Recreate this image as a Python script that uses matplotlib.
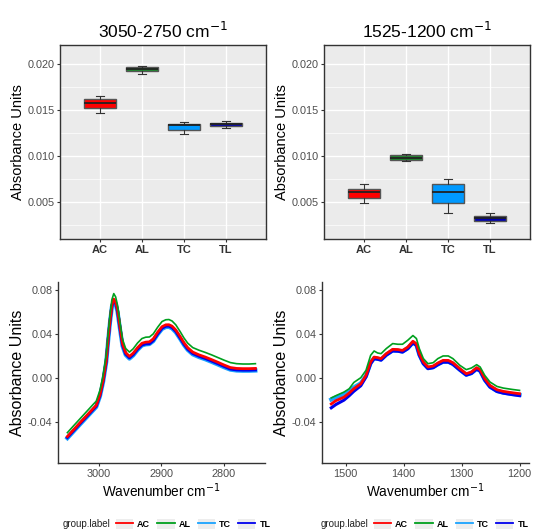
import numpy as np
import matplotlib
matplotlib.use("Agg")
import matplotlib.pyplot as plt
from matplotlib.lines import Line2D
from matplotlib.patches import Rectangle

plt.rcParams['font.family'] = ['Liberation Sans', 'DejaVu Sans']

groups = ['AC', 'AL', 'TC', 'TL']
line_colors = ['#FF0000', '#00A01E', '#1AA3FF', '#0000EE']
box_colors = ['#FF0000', '#1A8C2A', '#0099FF', '#0000B0']

# box stats: whisker low, q1, median, q3, whisker high
ch_box = [
    [0.01466, 0.0152, 0.01575, 0.01618, 0.0165],
    [0.01892, 0.01924, 0.01939, 0.0196, 0.01975],
    [0.01232, 0.01275, 0.01337, 0.0134, 0.01362],
    [0.01304, 0.01326, 0.0134, 0.01358, 0.01373],
]
fp_box = [
    [0.00486, 0.0054, 0.00605, 0.00644, 0.00691],
    [0.0094, 0.00958, 0.00976, 0.01005, 0.01023],
    [0.00377, 0.00489, 0.00605, 0.00698, 0.00749],
    [0.00273, 0.00294, 0.0033, 0.00352, 0.00377],
]

# mean spectra, C-H stretch region
wn_ch = [3050, 3040, 3030, 3020, 3010, 3004, 2998, 2993, 2988, 2985, 2982, 2979,
         2976, 2973, 2970, 2966, 2962, 2957, 2951, 2945, 2938, 2931, 2925, 2919,
         2913, 2906, 2899, 2893, 2888, 2883, 2877, 2870, 2864, 2858, 2850, 2840,
         2830, 2820, 2810, 2800, 2790, 2780, 2770, 2760, 2750]
ac_ch = [-0.0530, -0.0468, -0.0406, -0.0345, -0.0284, -0.0247, -0.0150, -0.0020,
         0.0160, 0.0350, 0.0520, 0.0660, 0.0715, 0.0690, 0.0620, 0.0460, 0.0310,
         0.0230, 0.0196, 0.0225, 0.0275, 0.0315, 0.0325, 0.0328, 0.0355, 0.0415,
         0.0465, 0.0482, 0.0483, 0.0470, 0.0435, 0.0375, 0.0320, 0.0275, 0.0235,
         0.0210, 0.0190, 0.0167, 0.0143, 0.0118, 0.0095, 0.0087, 0.0085, 0.0085,
         0.0087]
al_ch = [-0.0495, -0.0432, -0.0370, -0.0308, -0.0246, -0.0210, -0.0110, 0.0025,
         0.0210, 0.0400, 0.0570, 0.0710, 0.0765, 0.0735, 0.0660, 0.0500, 0.0350,
         0.0268, 0.0235, 0.0265, 0.0318, 0.0358, 0.0370, 0.0372, 0.0400, 0.0460,
         0.0512, 0.0528, 0.0530, 0.0517, 0.0482, 0.0420, 0.0363, 0.0316, 0.0276,
         0.0252, 0.0232, 0.0210, 0.0186, 0.0162, 0.0140, 0.0130, 0.0127, 0.0127,
         0.0130]
tc_ch = [-0.0545, -0.0483, -0.0421, -0.0360, -0.0299, -0.0262, -0.0165, -0.0035,
         0.0145, 0.0335, 0.0505, 0.0645, 0.0695, 0.0670, 0.0600, 0.0440, 0.0290,
         0.0210, 0.0176, 0.0205, 0.0255, 0.0295, 0.0305, 0.0308, 0.0335, 0.0395,
         0.0445, 0.0462, 0.0463, 0.0450, 0.0415, 0.0355, 0.0300, 0.0255, 0.0215,
         0.0190, 0.0170, 0.0147, 0.0123, 0.0098, 0.0076, 0.0068, 0.0066, 0.0066,
         0.0068]
tl_ch = [-0.0538, -0.0476, -0.0414, -0.0353, -0.0292, -0.0255, -0.0158, -0.0028,
         0.0152, 0.0342, 0.0512, 0.0652, 0.0705, 0.0680, 0.0610, 0.0450, 0.0300,
         0.0218, 0.0184, 0.0212, 0.0262, 0.0300, 0.0310, 0.0312, 0.0340, 0.0400,
         0.0452, 0.0470, 0.0471, 0.0458, 0.0423, 0.0362, 0.0307, 0.0262, 0.0223,
         0.0198, 0.0178, 0.0155, 0.0131, 0.0106, 0.0082, 0.0074, 0.0072, 0.0072,
         0.0074]

# mean spectra, fingerprint region
wn_fp = [1525, 1517, 1503, 1494, 1486, 1474, 1465, 1457, 1451, 1445, 1439, 1430,
         1419, 1410, 1402, 1393, 1384, 1378, 1373, 1366, 1358, 1349, 1341, 1332,
         1323, 1315, 1303, 1292, 1283, 1274, 1268, 1260, 1251, 1239, 1228, 1213,
         1200]
ac_fp = [-0.0235, -0.0205, -0.0173, -0.0136, -0.0097, -0.0052, 0.0024, 0.0145,
         0.0190, 0.0185, 0.0176, 0.0221, 0.0260, 0.0258, 0.0250, 0.0280, 0.0333,
         0.0310, 0.0221, 0.0145, 0.0100, 0.0109, 0.0136, 0.0160, 0.0160, 0.0139,
         0.0085, 0.0039, 0.0055, 0.0094, 0.0076, -0.0006, -0.0067, -0.0106,
         -0.0121, -0.0133, -0.0142]
al_fp = [-0.0180, -0.0160, -0.0127, -0.0097, -0.0040, 0.0003, 0.0070, 0.0206,
         0.0245, 0.0227, 0.0221, 0.0267, 0.0312, 0.0306, 0.0306, 0.0342, 0.0385,
         0.0358, 0.0267, 0.0176, 0.0130, 0.0139, 0.0176, 0.0200, 0.0200, 0.0176,
         0.0115, 0.0076, 0.0091, 0.0121, 0.0100, 0.0024, -0.0036, -0.0076,
         -0.0091, -0.0103, -0.0112]
tc_fp = [-0.0195, -0.0175, -0.0145, -0.0118, -0.0085, -0.0048, 0.0020, 0.0138,
         0.0180, 0.0175, 0.0168, 0.0212, 0.0250, 0.0248, 0.0240, 0.0270, 0.0322,
         0.0300, 0.0212, 0.0135, 0.0090, 0.0098, 0.0125, 0.0148, 0.0148, 0.0128,
         0.0075, 0.0030, 0.0045, 0.0084, 0.0066, -0.0016, -0.0078, -0.0117,
         -0.0132, -0.0144, -0.0152]
tl_fp = [-0.0270, -0.0240, -0.0200, -0.0160, -0.0120, -0.0070, 0.0010, 0.0130,
         0.0175, 0.0170, 0.0162, 0.0207, 0.0245, 0.0243, 0.0235, 0.0265, 0.0318,
         0.0296, 0.0207, 0.0130, 0.0085, 0.0094, 0.0120, 0.0144, 0.0144, 0.0124,
         0.0071, 0.0026, 0.0041, 0.0080, 0.0062, -0.0020, -0.0082, -0.0122,
         -0.0137, -0.0150, -0.0160]

TXT = '#4D4D4D'


def draw_box(ax, stats, title):
    ax.set_facecolor('#EBEBEB')
    bx = []
    for g, s in zip(groups, stats):
        bx.append(dict(label=g, whislo=s[0], q1=s[1], med=s[2], q3=s[3], whishi=s[4], fliers=[]))
    art = ax.bxp(bx, positions=[1, 2, 3, 4], widths=0.75, capwidths=0.2,
                 patch_artist=True, showfliers=False,
                 boxprops=dict(edgecolor='#555555', linewidth=1.0),
                 medianprops=dict(color='#222222', linewidth=1.3),
                 whiskerprops=dict(color='#333333', linewidth=0.8),
                 capprops=dict(color='#333333', linewidth=0.8))
    for patch, c in zip(art['boxes'], box_colors):
        patch.set_facecolor(c)
    ax.set_xlim(0.05, 4.95)
    ax.set_ylim(0.001, 0.022)
    ax.set_yticks([0.005, 0.010, 0.015, 0.020])
    ax.set_yticklabels(['0.005', '0.010', '0.015', '0.020'])
    ax.set_yticks([0.0025, 0.0075, 0.0125, 0.0175], minor=True)
    ax.set_xticks([1, 2, 3, 4])
    ax.set_xticklabels(groups, fontweight='bold', fontsize=8, color='#333333')
    ax.grid(True, which='major', color='white', linewidth=1.0)
    ax.grid(True, which='minor', axis='y', color='white', linewidth=0.5)
    ax.set_axisbelow(True)
    ax.tick_params(which='minor', length=0)
    ax.tick_params(axis='y', which='major', length=2.5, pad=1.5, color='#333333',
                   labelcolor=TXT, labelsize=7.8)
    ax.tick_params(axis='x', which='major', length=2.5, pad=2, color='#333333')
    for sp in ax.spines.values():
        sp.set_color('#333333')
        sp.set_linewidth(1.0)
    ax.set_ylabel('Absorbance Units', fontsize=10.5)
    ax.yaxis.set_label_coords(-0.170, 0.5)
    ax.set_title(title, fontsize=12.5, pad=5)


def draw_spectra(ax, wn, series, xlim, xticks):
    widths = [2.0, 1.2, 3.0, 2.2]
    # draw blues first, green on top
    for i in [2, 3, 0, 1]:
        ax.plot(wn, series[i], color=line_colors[i], linewidth=widths[i])
    ax.set_xlim(*xlim)
    ax.set_ylim(-0.077, 0.087)
    ax.set_xticks(xticks)
    ax.set_yticks([-0.04, 0.0, 0.04, 0.08])
    ax.set_yticklabels(['-0.04', '0.00', '0.04', '0.08'])
    for sp in ['top', 'right']:
        ax.spines[sp].set_visible(False)
    for sp in ['left', 'bottom']:
        ax.spines[sp].set_color('#333333')
        ax.spines[sp].set_linewidth(1.0)
    ax.tick_params(length=2.5, pad=1.5, color='#333333', labelcolor=TXT, labelsize=7.8)
    ax.set_ylabel('Absorbance Units', fontsize=11.5)
    ax.yaxis.set_label_coords(-0.159, 0.5)
    ax.set_xlabel('Wavenumber cm$^{-1}$', fontsize=9.8, labelpad=2)


def draw_legend(ax, kx, tx):
    handles = []
    for c in line_colors:
        bg = Rectangle((0, 0), 1, 1, facecolor='#EDEDED', edgecolor='none')
        ln = Line2D([], [], color=c, linewidth=1.3)
        handles.append((bg, ln))
    ax.legend(handles, groups, ncol=4, loc='center left', bbox_to_anchor=(kx, -0.337),
              frameon=False, handlelength=1.9, handleheight=1.3,
              handletextpad=0.45, columnspacing=0.8, borderpad=0, borderaxespad=0,
              prop=dict(weight='bold', size=6.5))
    ax.text(tx, -0.337, 'group.label', transform=ax.transAxes, fontsize=7,
            color='#222222', ha='left', va='center')


fig = plt.figure(figsize=(5.33, 5.30), dpi=100)
ax1 = fig.add_axes([0.1126, 0.549, 0.3865, 0.366])
ax2 = fig.add_axes([0.6079, 0.549, 0.3865, 0.366])
ax3 = fig.add_axes([0.1088, 0.1264, 0.388, 0.3415])
ax4 = fig.add_axes([0.6041, 0.1264, 0.388, 0.3415])

draw_box(ax1, ch_box, '3050-2750 cm$^{-1}$')
draw_box(ax2, fp_box, '1525-1200 cm$^{-1}$')
draw_spectra(ax3, wn_ch, [ac_ch, al_ch, tc_ch, tl_ch], (3065, 2735), [3000, 2900, 2800])
draw_spectra(ax4, wn_fp, [ac_fp, al_fp, tc_fp, tl_fp], (1541, 1184), [1500, 1400, 1300, 1200])
draw_legend(ax3, (116 - 58) / 207, (63 - 58) / 207)
draw_legend(ax4, (374 - 322) / 207, (321 - 322) / 207)

fig.savefig('out.png', dpi=100)
